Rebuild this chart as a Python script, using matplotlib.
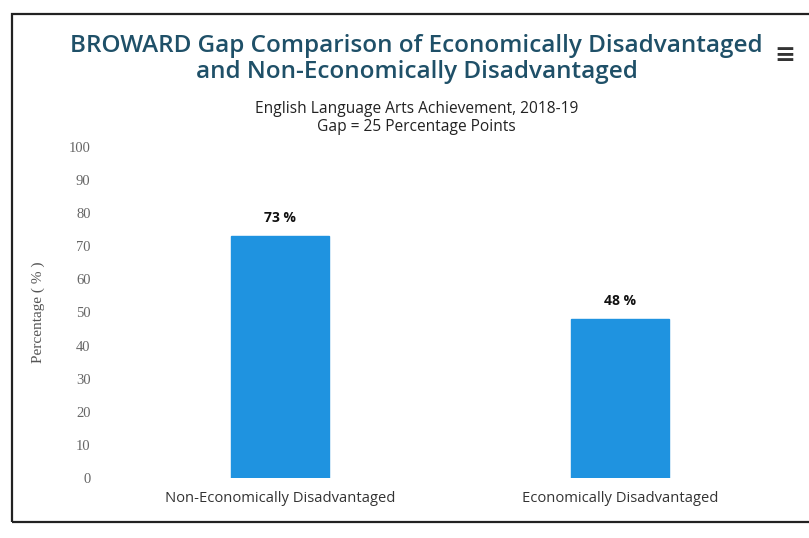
import matplotlib
matplotlib.use("Agg")
import matplotlib.pyplot as plt
from matplotlib.patches import Rectangle

# Chart data
categories = ["Non-Economically Disadvantaged", "Economically Disadvantaged"]
values = [73, 48]
y_ticks = [0, 10, 20, 30, 40, 50, 60, 70, 80, 90, 100]

title = "BROWARD Gap Comparison of Economically Disadvantaged\nand Non-Economically Disadvantaged"
subtitle = "English Language Arts Achievement, 2018-19\nGap = 25 Percentage Points"

bar_color = "#1f93e0"
title_color = "#1f5068"

fig = plt.figure(figsize=(8.09, 5.38), dpi=100)
fig.patch.set_facecolor("white")

# Outer frame of the chart container
fig.patches.append(Rectangle((12 / 809, 16 / 538), 800 / 809, 508 / 538,
                             transform=fig.transFigure, fill=False,
                             edgecolor="#222222", linewidth=1.6))

ax = fig.add_axes([110 / 809, 1 - 478 / 538, 680 / 809, 331 / 538])
x = list(range(len(categories)))
bars = ax.bar(x, values, width=0.29, color=bar_color, edgecolor=bar_color)

ax.set_xlim(-0.5, len(categories) - 0.5)
ax.set_ylim(0, 100)
ax.set_yticks(y_ticks)
ax.set_yticklabels([str(t) for t in y_ticks], family="Liberation Serif",
                   fontsize=10.5, color="#666666")
ax.set_xticks(x)
ax.set_xticklabels(categories, family="Open Sans", fontsize=10.6, color="#333333")
ax.tick_params(axis="y", length=0, pad=14)
ax.tick_params(axis="x", length=0, pad=9)
for s in ax.spines.values():
    s.set_visible(False)

ax.set_ylabel("Percentage ( % )", family="Liberation Serif", fontsize=11,
              color="#555555", labelpad=17)

for xi, v in zip(x, values):
    ax.annotate(f"{v} %", (xi, v), xytext=(0, 8), textcoords="offset points",
                ha="center", va="bottom", fontsize=10, fontweight="bold",
                family="Open Sans", color="#111111")

fig.text(0.515, 1 - 59 / 538, title, ha="center", va="center",
         family="Open Sans", fontsize=17.5, fontweight="semibold",
         color=title_color, linespacing=1.1)
fig.text(0.515, 1 - 118 / 538, subtitle, ha="center", va="center",
         family="Open Sans", fontsize=11.2, color="#222222", linespacing=1.2)

# Export menu icon
fig.text(785 / 809, 1 - 55 / 538, "≡", ha="center", va="center",
         fontsize=18, fontweight="bold", color="#333333", family="DejaVu Sans")

fig.savefig("out.png", dpi=100)
